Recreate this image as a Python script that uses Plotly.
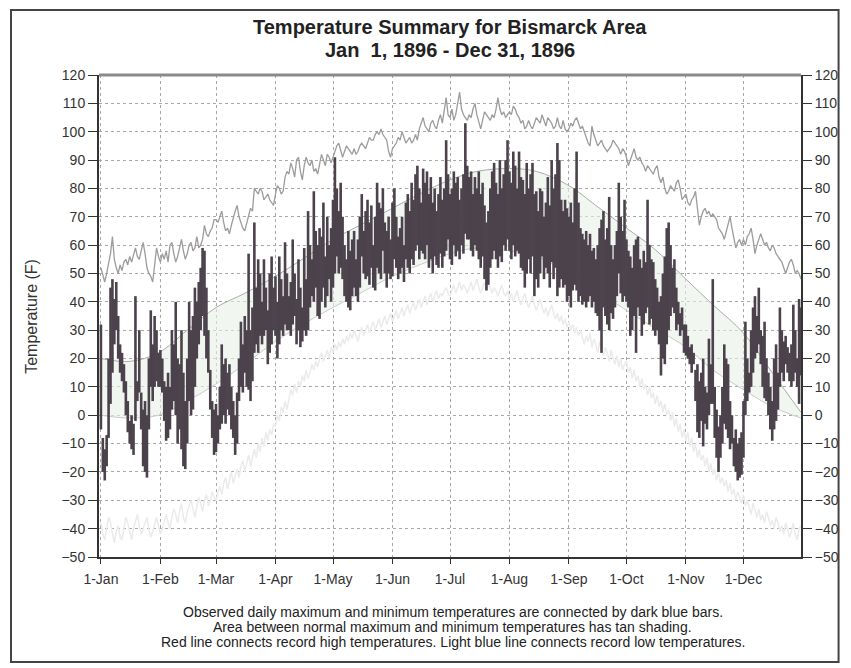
import pandas as pd
import plotly.graph_objects as go

dates = pd.date_range("1896-01-01", "1896-12-31", freq="D")

month_ticks = ["1896-01-01", "1896-02-01", "1896-03-01", "1896-04-01", "1896-05-01", "1896-06-01",
               "1896-07-01", "1896-08-01", "1896-09-01", "1896-10-01", "1896-11-01", "1896-12-01"]
month_labels = ["1-Jan", "1-Feb", "1-Mar", "1-Apr", "1-May", "1-Jun",
                "1-Jul", "1-Aug", "1-Sep", "1-Oct", "1-Nov", "1-Dec"]
y_ticks = list(range(-50, 121, 10))

obs_max = [
    32, -8, -12, -7, 20, 45, 48, 41, 47, 35, 25, 22, 18, 12, 5, -2, 0, -3, 42, 12, 30, 8, 2, 5, 0, 20, 37, 25, 35, 30, 22,
    23, 20, 12, 10, 15, 10, 30, 25, 40, 20, 18, 30, 15, 5, 20, 40, 30, 35, 45, 40, 47, 52, 59, 58, 45, 30, 16, 5, 2,
    4, 0, 10, 25, 18, 20, 15, 18, 10, 5, 0, 8, 20, 33, 25, 35, 30, 57, 30, 38, 68, 45, 55, 50, 40, 55, 45, 37, 50, 56, 45,
    49, 40, 56, 48, 42, 61, 50, 42, 47, 62, 50, 41, 55, 45, 38, 59, 48, 72, 60, 55, 79, 65, 60, 66, 63, 75, 56, 70, 60, 66,
    76, 91, 80, 72, 82, 70, 60, 55, 65, 58, 62, 65, 55, 62, 70, 78, 65, 72, 76, 68, 74, 60, 70, 82, 75, 73, 80, 68, 65, 70, 62,
    75, 80, 70, 63, 66, 70, 60, 75, 78, 72, 82, 76, 85, 88, 80, 75, 87, 82, 86, 78, 84, 75, 80, 72, 78, 84, 76, 80, 97, 85,
    78, 80, 86, 82, 84, 76, 80, 85, 103, 88, 84, 86, 78, 84, 80, 86, 78, 82, 74, 68, 72, 80, 86, 89, 82, 78, 90, 80, 85, 90, 97,
    86, 82, 93, 88, 80, 93, 84, 83, 78, 89, 80, 85, 89, 78, 79, 72, 80, 79, 70, 75, 84, 74, 90, 80, 85, 96, 90, 76, 72, 76, 73,
    70, 75, 68, 80, 93, 75, 66, 64, 62, 65, 60, 64, 58, 59, 55, 60, 66, 69, 72, 62, 66, 77, 60, 55, 60, 65, 82, 70, 65, 76,
    62, 58, 56, 52, 60, 62, 63, 55, 52, 58, 54, 76, 60, 55, 54, 48, 45, 40, 42, 50, 56, 66, 68, 60, 52, 55, 45, 40, 36, 38, 32,
    32, 28, 24, 25, 22, 16, 18, 12, 15, 20, 10, 8, 27, 18, 48, 10, 2, -4, 0, 10, 25, 20, 18, 5, 0, -8, -5, -10, -8, -6,
    5, 33, 20, 15, 30, 38, 42, 35, 45, 30, 28, 33, 20, 15, 10, 5, 20, 25, 15, 38, 30, 26, 28, 24, 22, 25, 39, 30, 20, 41, 38,
]
obs_min = [
    -5, -20, -23, -18, -8, 4, 15, 25, 30, 20, 15, 12, 8, 0, -6, -10, -12, -14, -2, 5, 8, -5, -18, -20, -22, -5, 10, 5, 10, 12, 10,
    10, 8, -2, -9, -8, -5, 2, 5, 0, -10, -5, -12, -18, -19, -10, 5, 0, 2, 10, 20, 25, 30, 35, 28, 20, 15, 2, -8, -14,
    -13, -10, -5, -3, 0, -3, 2, 0, -5, -8, -14, -10, 5, 10, 8, 15, 10, 9, 5, 12, 22, 25, 22, 28, 25, 28, 30, 18, 22, 25, 30,
    28, 20, 25, 30, 28, 32, 30, 30, 28, 32, 35, 25, 30, 24, 26, 30, 28, 30, 38, 42, 40, 45, 35, 34, 40, 45, 38, 42, 48, 40,
    45, 50, 56, 50, 52, 48, 42, 40, 38, 37, 42, 45, 42, 40, 45, 56, 50, 48, 49, 46, 52, 45, 44, 52, 50, 48, 58, 50, 45, 50, 48,
    49, 55, 52, 48, 50, 52, 47, 55, 52, 50, 55, 53, 58, 60, 55, 58, 57, 55, 60, 52, 55, 50, 56, 53, 52, 57, 52, 56, 58, 62,
    55, 53, 60, 56, 58, 55, 60, 57, 64, 62, 62, 58, 56, 60, 58, 55, 52, 56, 48, 44, 46, 52, 55, 58, 55, 52, 56, 54, 60, 58, 62,
    58, 55, 60, 56, 58, 57, 52, 51, 45, 50, 55, 50, 56, 42, 48, 45, 50, 56, 48, 52, 50, 45, 54, 48, 52, 42, 45, 48, 45, 46, 40,
    42, 38, 44, 46, 44, 40, 42, 39, 40, 38, 40, 42, 38, 40, 36, 35, 30, 22, 38, 35, 32, 30, 36, 34, 38, 42, 50, 43, 40, 42,
    40, 38, 28, 30, 35, 22, 38, 35, 28, 32, 36, 38, 32, 34, 30, 28, 30, 25, 14, 20, 18, 25, 30, 35, 38, 36, 30, 32, 28, 30, 22,
    21, 20, 18, 15, 18, 5, -6, -8, -2, -11, -3, -5, 0, 4, 4, -8, -15, -20, -15, -10, -3, -5, -8, -12, -10, -18, -20, -23, -22, -21,
    -15, 0, 5, 8, 10, 15, 20, 22, 25, 18, 10, 6, 5, 0, -5, -9, -5, -2, 2, 10, 15, 12, 18, 15, 12, 10, 12, 15, 10, 4, 14,
]
rec_high = [
    52, 49, 47, 50, 53, 57, 63, 55, 52, 50, 53, 51, 54, 55, 53, 56, 54, 57, 59, 56, 55, 58, 61, 57, 52, 50, 49, 47, 53, 59, 56,
    54, 57, 55, 58, 54, 60, 61, 57, 54, 56, 59, 62, 58, 55, 57, 60, 61, 58, 59, 63, 59, 60, 62, 67, 64, 63, 65, 66, 69,
    69, 68, 70, 72, 68, 65, 66, 64, 67, 70, 72, 74, 70, 68, 66, 65, 68, 70, 73, 72, 80, 79, 78, 80, 79, 76, 77, 78, 76, 75, 74,
    78, 81, 80, 78, 79, 84, 86, 85, 89, 87, 84, 90, 91, 86, 83, 88, 91, 89, 88, 90, 86, 87, 85, 89, 92, 90, 88, 92, 91, 89,
    91, 93, 95, 96, 93, 91, 93, 95, 94, 93, 92, 94, 92, 93, 95, 96, 95, 94, 96, 98, 97, 97, 99, 100, 99, 101, 99, 98, 97, 93, 91,
    94, 95, 96, 98, 97, 100, 98, 96, 97, 98, 96, 97, 99, 97, 101, 103, 105, 102, 101, 100, 103, 104, 102, 101, 104, 106, 103, 108, 112, 106,
    105, 108, 104, 106, 110, 114, 108, 106, 105, 104, 106, 105, 108, 110, 106, 103, 101, 104, 107, 106, 105, 104, 106, 105, 108, 112, 108, 106, 107, 105, 106,
    107, 106, 109, 108, 106, 105, 103, 104, 101, 102, 104, 102, 101, 103, 105, 104, 103, 106, 104, 102, 105, 104, 103, 101, 102, 105, 102, 101, 104, 101, 100,
    101, 103, 102, 104, 105, 103, 101, 102, 100, 98, 96, 95, 102, 99, 97, 95, 96, 97, 95, 94, 93, 94, 95, 97, 96, 95, 94, 92, 94, 93,
    91, 88, 90, 92, 94, 91, 90, 91, 89, 88, 86, 88, 87, 86, 85, 87, 88, 84, 82, 84, 80, 78, 79, 81, 80, 79, 82, 83, 80, 76, 77,
    78, 75, 74, 76, 77, 79, 72, 67, 70, 72, 73, 71, 72, 70, 71, 70, 69, 66, 65, 64, 62, 65, 68, 70, 66, 62, 59, 61, 62, 60,
    62, 60, 63, 64, 66, 62, 57, 60, 62, 64, 62, 60, 61, 59, 58, 60, 59, 57, 56, 55, 54, 52, 50, 52, 54, 55, 53, 50, 51, 50, 48,
]
rec_low = [
    -38, -42, -44, -40, -36, -38, -42, -45, -41, -39, -43, -44, -40, -36, -38, -41, -44, -40, -37, -35, -39, -42, -40, -38, -36, -40, -43, -41, -38, -36, -39,
    -42, -40, -37, -35, -38, -40, -36, -33, -35, -38, -34, -31, -36, -38, -34, -32, -30, -33, -36, -32, -29, -31, -34, -30, -28, -32, -30, -27, -29,
    -30, -27, -25, -28, -24, -22, -26, -23, -20, -24, -21, -19, -22, -18, -16, -20, -17, -14, -18, -15, -12, -15, -10, -13, -8, -11, -6, -9, -5, -7, -3,
    -4, 0, -2, 3, 1, 5, 2, 6, 9, 7, 11, 8, 12, 10, 14, 12, 16, 13, 15, 18, 16, 19, 17, 20, 22, 19, 21, 23, 20, 24,
    22, 25, 23, 26, 24, 27, 25, 28, 26, 29, 27, 30, 28, 26, 29, 31, 28, 30, 32, 29, 31, 33, 30, 32, 34, 31, 33, 35, 32, 34, 36,
    33, 35, 37, 34, 36, 38, 35, 37, 39, 36, 38, 40, 37, 39, 41, 38, 40, 42, 39, 41, 43, 40, 42, 44, 41, 43, 42, 44, 45, 43,
    42, 44, 46, 43, 45, 47, 44, 46, 45, 43, 45, 47, 44, 46, 48, 45, 43, 45, 47, 44, 46, 45, 43, 45, 44, 42, 44, 46, 43, 42, 44,
    41, 43, 40, 42, 44, 41, 39, 41, 43, 40, 38, 40, 42, 39, 37, 39, 41, 38, 36, 38, 35, 37, 39, 36, 34, 36, 33, 35, 32, 34, 31,
    33, 30, 32, 29, 31, 28, 30, 27, 25, 28, 26, 29, 24, 27, 25, 22, 26, 23, 21, 24, 22, 19, 23, 20, 18, 21, 17, 20, 16, 18,
    19, 15, 17, 13, 16, 12, 14, 10, 13, 9, 11, 7, 10, 6, 8, 4, 7, 3, 5, 1, 4, 0, 2, -2, 1, -4, -1, -6, -3, -8, -5,
    -9, -6, -11, -8, -13, -10, -15, -12, -16, -14, -18, -15, -20, -17, -21, -19, -23, -20, -24, -22, -25, -23, -27, -24, -28, -26, -30, -27, -29, -31,
    -28, -32, -30, -33, -35, -31, -34, -36, -33, -37, -35, -38, -34, -36, -39, -37, -40, -36, -38, -41, -39, -42, -38, -40, -43, -41, -38, -42, -44, -40, -39,
]

normal_dates = ["1896-01-01", "1896-01-16", "1896-01-31", "1896-02-15", "1896-03-01", "1896-03-16",
                "1896-04-01", "1896-04-15", "1896-05-01", "1896-05-15", "1896-06-01", "1896-06-15",
                "1896-07-01", "1896-07-15", "1896-08-01", "1896-08-15", "1896-09-01", "1896-09-15",
                "1896-10-01", "1896-10-15", "1896-11-01", "1896-11-15", "1896-12-01", "1896-12-16", "1896-12-31"]
normal_max = [20, 19, 22, 30, 38, 43, 49, 55, 62, 67, 73, 78, 83, 86, 87, 86, 81, 74, 66, 59, 48, 39, 29, 15, 1]
normal_min = [0, -1, 0, 5, 11, 18, 26, 32, 38, 43, 49, 53, 57, 59, 58, 56, 50, 44, 37, 31, 24, 16, 9, 3, -1]

# vertical segments (min -> max) for each observed day, separated by gaps
seg_x, seg_y = [], []
for d, lo, hi in zip(dates, obs_min, obs_max):
    seg_x += [d, d, None]
    seg_y += [lo, hi, None]

FONT = "Liberation Sans, Arial, sans-serif"

fig = go.Figure()
fig.add_trace(go.Scatter(x=normal_dates, y=normal_min, mode="lines", line=dict(color="#c8ccc8", width=1, shape="spline"),
                         hoverinfo="skip", showlegend=False))
fig.add_trace(go.Scatter(x=normal_dates, y=normal_max, mode="lines", line=dict(color="#a9aca9", width=1, shape="spline"),
                         fill="tonexty", fillcolor="rgba(232,240,232,0.6)", hoverinfo="skip", showlegend=False))
fig.add_trace(go.Scatter(x=dates, y=rec_low, mode="lines", line=dict(color="#ebebeb", width=1.5),
                         showlegend=False))
fig.add_trace(go.Scatter(x=dates, y=rec_high, mode="lines", line=dict(color="#9c9c9c", width=1.3),
                         showlegend=False))
fig.add_trace(go.Scatter(x=seg_x, y=seg_y, mode="lines", connectgaps=False,
                         line=dict(color="#4b424b", width=2.6), showlegend=False))
fig.add_trace(go.Scatter(x=[dates[0]], y=[obs_max[0]], yaxis="y2", mode="markers", marker=dict(opacity=0),
                         hoverinfo="skip", showlegend=False))

axis_font = dict(family=FONT, size=14, color="#333333")
fig.update_layout(
    width=843, height=660,
    margin=dict(l=91, r=42, t=67, b=111),
    paper_bgcolor="white", plot_bgcolor="white",
    xaxis=dict(type="date", range=["1895-12-31", "1896-12-31"], tickvals=month_ticks, ticktext=month_labels,
               showgrid=True, gridcolor="#a8a8a8", griddash="dot", gridwidth=1,
               showline=True, linecolor="#333333", linewidth=2, ticks="outside", ticklen=5, tickcolor="#333333",
               tickfont=axis_font, zeroline=False, ticklabelstandoff=3),
    yaxis=dict(range=[-50, 120], tickvals=y_ticks, showgrid=True, gridcolor="#a8a8a8", griddash="dot", gridwidth=1,
               showline=True, linecolor="#333333", linewidth=2, ticks="outside", ticklen=9, tickcolor="#333333",
               tickfont=axis_font, zeroline=False),
    yaxis2=dict(range=[-50, 120], tickvals=y_ticks, overlaying="y", side="right", showgrid=False,
                showline=True, linecolor="#333333", linewidth=2, ticks="outside", ticklen=9, tickcolor="#333333",
                tickfont=axis_font, zeroline=False),
    shapes=[
        dict(type="line", xref="paper", yref="paper", x0=0, x1=1, y0=1, y1=1, line=dict(color="#8a8a8a", width=3)),
        dict(type="rect", xref="paper", yref="paper", x0=(10 - 99) / 710, x1=(847 - 99) / 710,
             y0=(557 - 662) / 482, y1=(557 - 10) / 482, line=dict(color="#444444", width=2)),
    ],
    annotations=[
        dict(text="<b>Temperature Summary for Bismarck Area</b>", xref="paper", yref="paper", x=0.5, y=(557 - 27) / 482,
             xanchor="center", yanchor="middle", showarrow=False, font=dict(family=FONT, size=20, color="#222222")),
        dict(text="<b>Jan  1, 1896 - Dec 31, 1896</b>", xref="paper", yref="paper", x=0.5, y=(557 - 50) / 482,
             xanchor="center", yanchor="middle", showarrow=False, font=dict(family=FONT, size=20, color="#222222")),
        dict(text="Temperature (F)", xref="paper", yref="paper", x=(30 - 99) / 710, y=(557 - 316) / 482,
             xanchor="center", yanchor="middle", textangle=-90, showarrow=False,
             font=dict(family=FONT, size=16, color="#333333")),
        dict(text="Observed daily maximum and minimum temperatures are connected by dark blue bars.",
             xref="paper", yref="paper", x=(457 - 99) / 710, y=(557 - 612) / 482, xanchor="center", yanchor="middle",
             showarrow=False, font=dict(family=FONT, size=14, color="#222222")),
        dict(text="Area between normal maximum and minimum temperatures has tan shading.",
             xref="paper", yref="paper", x=(457 - 99) / 710, y=(557 - 627) / 482, xanchor="center", yanchor="middle",
             showarrow=False, font=dict(family=FONT, size=14, color="#222222")),
        dict(text="Red line connects record high temperatures. Light blue line connects record low temperatures.",
             xref="paper", yref="paper", x=(457 - 99) / 710, y=(557 - 642) / 482, xanchor="center", yanchor="middle",
             showarrow=False, font=dict(family=FONT, size=14, color="#222222")),
    ],
)

fig.write_html("out.html")
